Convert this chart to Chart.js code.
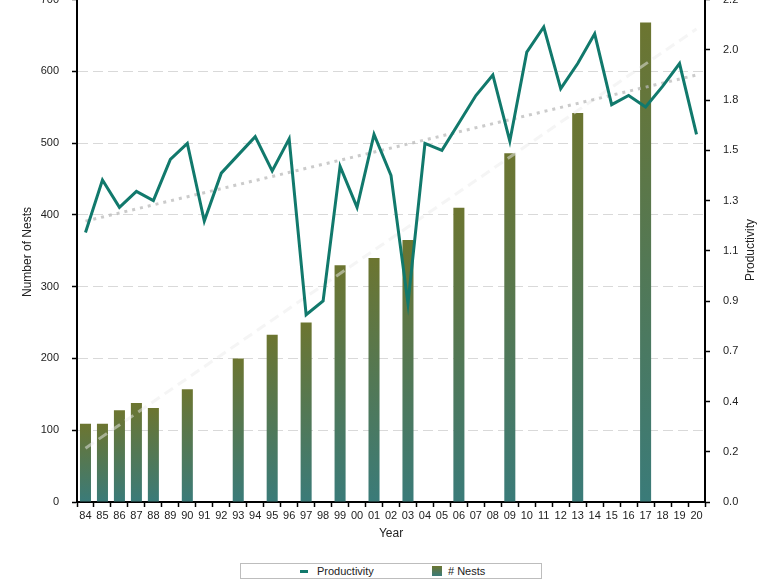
<!DOCTYPE html>
<html>
<head>
<meta charset="utf-8">
<script src="https://cdn.jsdelivr.net/npm/chart.js@4/dist/chart.umd.min.js"></script>
<style>
  body { margin: 0; background: #fff; width: 779px; height: 586px; overflow: hidden; position: relative; font-family: "Liberation Sans", Arial, sans-serif; }
  #wrap { position: absolute; left: 0; top: -20px; width: 779px; height: 570px; }
  #legend { position: absolute; left: 240px; top: 563px; width: 300px; height: 14px; border: 1px solid #bdbdbd; font-size: 11px; color: #222; }
  #legend .item { position: absolute; top: 0; line-height: 14px; }
  #legend .line { position: absolute; width: 8px; height: 3px; background: #11796c; top: 6px; }
  #legend .box { position: absolute; width: 10px; height: 10px; top: 2px; background: linear-gradient(#6c7530, #3a7b79); }
</style>
</head>
<body>
<div id="wrap"><canvas id="chart"></canvas></div>
<div id="legend">
  <span class="line" style="left:59px"></span><span class="item" style="left:76px">Productivity</span>
  <span class="box" style="left:191px"></span><span class="item" style="left:207px"># Nests</span>
</div>
<script>
const years = ['84','85','86','87','88','89','90','91','92','93','94','95','96','97','98','99','00',
  '01','02','03','04','05','06','07','08','09','10','11','12','13','14','15','16','17','18','19','20'];

const nests = [109, 109, 128, 138, 131, null, 157, null, null, 200, null, 233, null, 250, null, 330, null,
  340, null, 365, null, null, 410, null, null, 486, null, null, null, 542, null, null, null, 668, null, null, null];

const productivity = [1.18, 1.41, 1.29, 1.36, 1.32, 1.50, 1.57, 1.23, 1.44, 1.52, 1.60, 1.45, 1.59, 0.82, 0.88, 1.47, 1.29,
  1.61, 1.43, 0.87, 1.57, 1.54, 1.66, 1.78, 1.87, 1.58, 1.97, 2.08, 1.81, 1.92, 2.05, 1.74, 1.78, 1.73, 1.82, 1.92, 1.61];

// trend line end points (first year, last year)
const nestTrend = [75, 659];
const prodTrend = [1.23, 1.87];

const nestTicks = [0, 100, 200, 300, 400, 500, 600, 700];

const last = years.length - 1;
function ends(pair) {
  return years.map((_, i) => i === 0 ? pair[0] : (i === last ? pair[1] : null));
}

// page y -> canvas y (canvas is shifted up by 20px)
const OFF = 20;

const axisTitles = {
  id: 'axisTitles',
  afterDraw(chart) {
    const c = chart.ctx;
    c.save();
    c.fillStyle = '#222';
    c.font = '12px "Liberation Sans", Arial, sans-serif';
    c.textAlign = 'center';
    c.textBaseline = 'middle';
    c.fillText('Year', 391, 534 + OFF);
    c.translate(28, 252 + OFF);
    c.rotate(-Math.PI / 2);
    c.fillText('Number of Nests', 0, 0);
    c.restore();
    c.save();
    c.fillStyle = '#222';
    c.font = '12px "Liberation Sans", Arial, sans-serif';
    c.textAlign = 'center';
    c.textBaseline = 'middle';
    c.translate(751, 250 + OFF);
    c.rotate(-Math.PI / 2);
    c.fillText('Productivity', 0, 0);
    c.restore();
  }
};

function barGradient(context) {
  const chart = context.chart;
  if (!chart.chartArea || context.raw == null) return '#6c7530';
  const ys = chart.scales.y;
  const top = ys.getPixelForValue(context.raw);
  const bottom = ys.getPixelForValue(0);
  const g = chart.ctx.createLinearGradient(0, top, 0, bottom);
  g.addColorStop(0, '#6c7530');
  g.addColorStop(1, '#3a7b79');
  return g;
}

Chart.defaults.font.family = '"Liberation Sans", Arial, sans-serif';
Chart.defaults.font.size = 11;
Chart.defaults.color = '#222';

const ctx = document.getElementById('chart').getContext('2d');
const chart = new Chart(ctx, {
  type: 'bar',
  data: {
    labels: years,
    datasets: [
      {
        type: 'line',
        label: 'Productivity',
        data: productivity,
        yAxisID: 'y1',
        borderColor: '#11796c',
        borderWidth: 3,
        pointRadius: 0,
        tension: 0,
        order: 0
      },
      {
        type: 'line',
        label: 'Productivity trend',
        data: ends(prodTrend),
        yAxisID: 'y1',
        borderColor: 'rgba(185,185,185,0.75)',
        borderWidth: 3,
        borderDash: [3, 5],
        pointRadius: 0,
        spanGaps: true,
        order: 1
      },
      {
        type: 'line',
        label: 'Nests trend',
        data: ends(nestTrend),
        yAxisID: 'y',
        borderColor: 'rgba(236,236,236,0.5)',
        borderWidth: 3,
        borderDash: [10, 6],
        pointRadius: 0,
        spanGaps: true,
        order: 2
      },
      {
        label: '# Nests',
        data: nests,
        yAxisID: 'y',
        backgroundColor: barGradient,
        barPercentage: 0.65,
        categoryPercentage: 1,
        order: 3
      }
    ]
  },
  options: {
    responsive: true,
    maintainAspectRatio: false,
    animation: false,
    layout: { padding: { top: 18, left: 0, right: 0, bottom: 0 } },
    plugins: {
      legend: { display: false },
      tooltip: { enabled: false }
    },
    scales: {
      x: {
        offset: true,
        grid: { offset: true, drawOnChartArea: false, tickLength: 5, tickColor: '#000', tickWidth: 1.5 },
        border: { color: '#000', width: 2 },
        ticks: { padding: 2, maxRotation: 0, autoSkip: false },
        afterFit(scale) { scale.height = 48; }
      },
      y: {
        position: 'left',
        min: 0,
        max: 700,
        afterBuildTicks(scale) { scale.ticks = nestTicks.map(v => ({ value: v })); },
        grid: { color: '#d9d9d9', tickColor: '#000', tickLength: 5, tickWidth: 1.5 },
        border: { color: '#000', width: 2, dash: [10, 5] },
        ticks: { padding: 13 },
        afterFit(scale) { scale.width = 77; }
      },
      y1: {
        position: 'right',
        min: 0,
        max: 2.2,
        ticks: { count: 11, padding: 13, callback: v => v.toFixed(1) },
        grid: { drawOnChartArea: false, tickColor: '#000', tickLength: 5, tickWidth: 1.5 },
        border: { color: '#000', width: 2 },
        afterFit(scale) { scale.width = 74; }
      }
    }
  },
  plugins: [axisTitles]
});
</script>
</body>
</html>
